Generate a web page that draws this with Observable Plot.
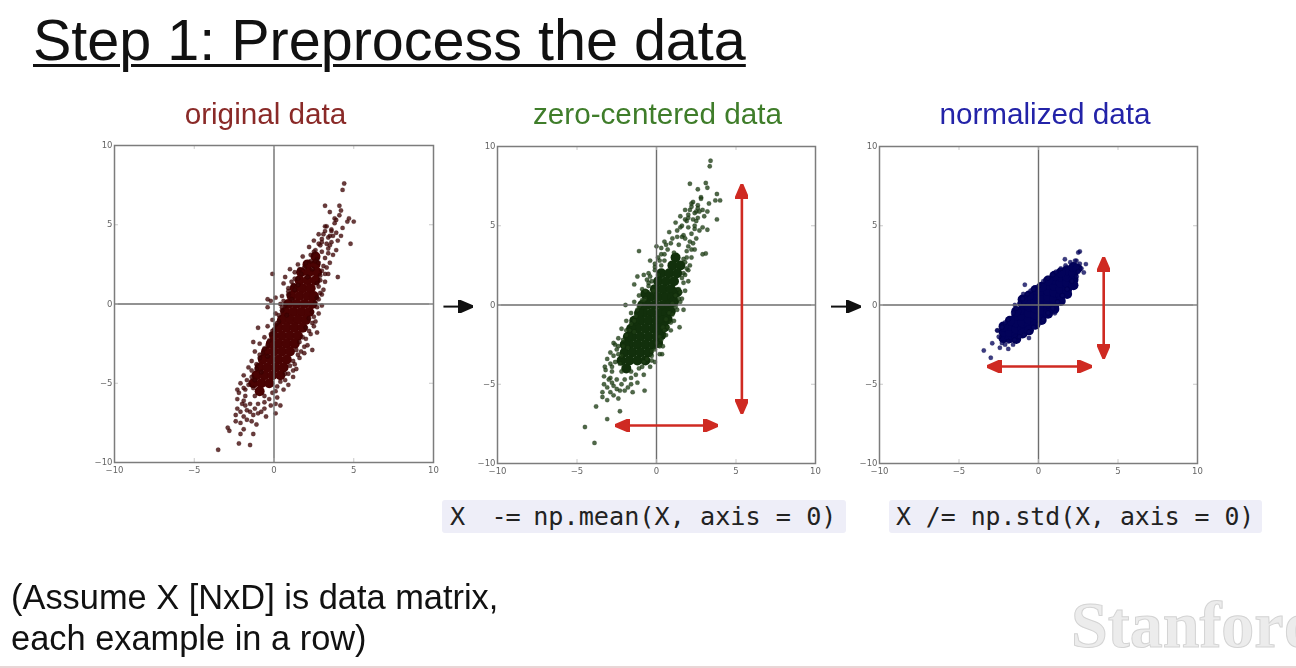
<!DOCTYPE html>
<html><head><meta charset="utf-8">
<script src="https://cdn.jsdelivr.net/npm/d3@7"></script>
<script src="https://cdn.jsdelivr.net/npm/@observablehq/plot@0.6"></script>
<style>
html,body{margin:0;padding:0;background:#fff;width:1296px;height:668px;overflow:hidden}
#page{position:relative;width:1296px;height:668px;overflow:hidden;filter:blur(.7px)}
#page>*{position:absolute}
.slide{font-family:"Liberation Sans",Arial,sans-serif;white-space:pre;margin:0}
.ptitle{font-size:29.7px;line-height:32px;text-align:center}
.code{font-family:"DejaVu Sans Mono",monospace;font-size:24.8px;line-height:33px;background:#eeeef8;color:#222;border-radius:3px;white-space:pre;box-sizing:border-box}
svg{overflow:visible;background:transparent!important}
</style></head><body><div id="page"></div>
<script>
const mainTitle = "Step 1: Preprocess the data";
const panelTitles = ["original data","zero-centered data","normalized data"];
const codeLines = ["X  -= np.mean(X, axis = 0)","X /= np.std(X, axis = 0)"];
const noteLines = ["(Assume X [NxD] is data matrix,","each example in a row)"];
const tickValues = [-10,-5,0,5,10];

const originalPoints = [[4.4,7.6],[4.3,7.2],[3.2,6.2],[4.1,6.2],[3.5,5.8],[4.2,5.9],[4.1,5.6],[3.8,5.4],[3.9,5.3],[4.7,5.4],[5,5.2],[4.6,5.2],[4.8,3.8],[3.2,4.9],[-.1,1.9],[.7,1.7],[.6,1.3],[1,2.2],[-.4,.3],[.1,.4],[-.2,.2],[-.4,-.2],[-1,-1.5],[-1.3,-2.4],[2.4,-2.9],[2.7,-1.8],[-2.3,-5.4],[.1,-6.9],[.4,-6.4],[.1,-6.3],[-3.5,-9.2],[-2.2,-8.8],[-1.5,-8.9],[-2.1,-8.2],[-1.3,-8.2],[-2.9,-7.8],[-2.8,-8],[-2.4,-7.4],[-1.9,-7.9],[-1.1,-7.6],
[3.3,4.9],[3.8,5.1],[4.3,4.8],[3.6,4.7],[2.8,4.4],[3.2,4.6],[3.9,4.5],[4.2,4.3],[3.5,4.3],[2.5,4],[3,4.1],[3.6,3.9],[4,4],[3.3,3.8],[2.2,3.6],[2.6,3.4],[3.4,3.5],[3.9,3.4],[2.9,3.7],[1.8,3],[2.3,3.1],[3.2,2.9],[3.7,3.1],[2.7,2.8],[1.5,2.5],[2,2.6],[3.1,2.4],[3.5,2.6],[2.6,2.7],[1.3,2],[1.7,1.9],[3,2.1],[3.4,1.9],[2.4,2.2],[4,1.7],[1.1,1.4],[1.5,1.6],[2.9,1.5],[3.2,1.4],[.9,1],[1.3,.9],[2.8,1.1],[3.1,.9],[.5,.5],[.9,.6],[2.7,.4],[3,.6],[.4,0],[.7,-.1],[2.6,.1],[3,-.1],[.1,-.6],[.5,-.4],[2.4,-.5],[2.8,-.6],[-.1,-1],[.3,-1.1],[2.2,-.9],[2.6,-1.1],[-.4,-1.4],[0,-1.6],[2,-1.5],[2.5,-1.4],[-.6,-2.1],[-.2,-1.9],[1.8,-2.1],[2.3,-1.9],[-.9,-2.5],[-.4,-2.6],[1.6,-2.4],[2.1,-2.6],[-1.2,-3],[-.7,-3.1],[1.4,-2.9],[1.9,-3.1],[-1.4,-3.6],[-.9,-3.4],[1.2,-3.6],[1.6,-3.4],[-1.6,-4],[-1.1,-4.1],[1,-3.9],[1.4,-4.1],[-1.9,-4.5],[-1.4,-4.6],[.7,-4.4],[1.2,-4.6],[-2.1,-5],[-1.6,-5.1],[.4,-4.9],[.9,-5.1],[-2.2,-5.6],[-1.8,-5.4],[.1,-5.5],[.6,-5.4],[-2.3,-6],[-1.9,-6.1],[-.3,-6],[.2,-5.9],[-2.3,-6.6],[-1.8,-6.4],[-.6,-6.6],[-.2,-6.4],[-2.4,-7],[-1.9,-7.1],[-1,-6.9],[-.5,-7.1],[-1.5,-6.8],[-2.1,-7.5],[-1.4,-7.4],
[3.4,4.2],[3,3.9],[3.7,4.3],[3.1,4.4],[3.6,4.6],[2.8,3.8],[3.4,3.2],[2.5,3.3],[3,3.3],[3.5,3.7],[2.3,2.7],[2.8,2.6],[3.3,2.3],[1.9,2.3],[1.6,2.2],[2.1,1.7],[3.2,1.9],[1.3,1.6],[2.9,1.8],[1.2,1.2],[1.5,1.2],[2.7,1.3],[2.9,.7],[.9,.8],[1.1,.3],[2.8,.3],[.6,.2],[2.7,-.2],[.5,-.2],[.8,-.7],[.3,-.7],[2.5,-.8],[.1,-1.3],[2.4,-1.2],[-.1,-1.7],[.2,-1.2],[2.2,-1.7],[-.3,-2.3],[2,-2.2],[1.9,-2.7],[-.6,-2.8],[-.9,-3.2],[1.7,-3],[1.5,-3.2],[-1.1,-3.8],[-.4,-3.3],[1.3,-3.8],[1.2,-4.2],[-1.4,-4.2],[-.8,-4.3],[.9,-4.4],[-1.7,-4.8],[-1.2,-4.8],[.7,-4.8],[-1.9,-5.3],[-1.3,-5.3],[.2,-5.2],[-1.8,-5.8],[-1.2,-5.8],[-.6,-5.8],[-.1,-5.6],[-2,-6.3],[-1.5,-6.3],[-1,-6.3],[-.6,-6.2],[-2.1,-6.8],[-1.7,-6.7],[-1.2,-6.6],[-.8,-6.8],[-1.7,-7.3],[-1.3,-7]];
const originalCore = [[2.6,3],[2.1,2.5],[2.6,2.5],[1.7,2],[2.2,2],[2.7,2],[1.6,1.5],[2.1,1.5],[2.6,1.5],[1.3,1],[1.8,1],[2.3,1],[1.1,.5],[1.6,.5],[2.1,.5],[2.5,.5],[.9,0],[1.4,0],[1.9,0],[2.4,0],[.7,-.5],[1.2,-.5],[1.7,-.5],[2.2,-.5],[.5,-1],[1,-1],[1.5,-1],[2,-1],[.3,-1.5],[.8,-1.5],[1.3,-1.5],[1.8,-1.5],[0,-2],[.5,-2],[1,-2],[1.5,-2],[-.2,-2.5],[.3,-2.5],[.8,-2.5],[1.3,-2.5],[-.5,-3],[0,-3],[.5,-3],[1,-3],[-.7,-3.5],[-.2,-3.5],[.3,-3.5],[.8,-3.5],[-.9,-4],[-.4,-4],[.1,-4],[.6,-4],[-1.1,-4.5],[-.6,-4.5],[-.1,-4.5],[.4,-4.5],[-1.3,-5],[-.8,-5],[-.3,-5],[-.9,-5.5]];

const centeredPoints = [[3.4,9.1],[3.35,8.75],[2.1,7.65],[3.1,7.7],[2.6,7.3],[3.2,7.4],[2.8,6.8],[3.8,7],[4,6.6],[3.7,6.6],[3.8,5.4],[2.2,6.4],[-1.1,3.4],[0,3.7],[-.4,2.8],[-1.2,1.8],[-.8,1.9],[-1.4,1.3],[-1.95,0],[1.7,-.3],[1.45,-1.4],[.35,-3.1],[-.3,-3.5],[-.75,-5.4],[-2.3,-6.7],[-3.1,-7.2],[-4.5,-7.7],[-3.9,-8.7],[-3.8,-6.4],[-3.4,-5.8],[-3.25,-3.9],[-2.7,-2.4],[-2.5,-2.8],[2.9,3.2],[3.1,3.25],[3.2,4.75],
[2.3,6.5],[2.8,6.7],[3.3,6.4],[2.6,6.3],[1.8,6],[2.2,6.2],[2.9,6],[3.2,5.9],[2.5,5.9],[1.5,5.6],[2,5.7],[2.6,5.5],[3,5.6],[2.3,5.4],[1.2,5.2],[1.6,5],[2.4,5],[2.9,4.9],[1.9,5.3],[.8,4.6],[1.3,4.7],[2.2,4.5],[2.7,4.7],[1.7,4.4],[.5,4],[1,4.2],[2.1,4],[2.5,4.2],[1.6,4.3],[.3,3.6],[.7,3.5],[2,3.7],[2.4,3.5],[1.4,3.8],[.1,3],[.5,3.2],[1.9,3],[2.2,3],[-.1,2.6],[.3,2.5],[1.8,2.7],[2.1,2.5],[-.5,2],[-.1,2.2],[1.7,2],[2,2.2],[-.6,1.6],[-.3,1.5],[1.6,1.7],[2,1.5],[-.9,1],[-.5,1.2],[1.4,1],[1.8,.9],[-1.1,.6],[-.7,.4],[1.2,.6],[1.6,.4],[-1.4,.2],[-1,0],[1,.1],[1.5,.2],[-1.6,-.5],[-1.2,-.3],[.8,-.5],[1.3,-.3],[-1.9,-1],[-1.4,-1],[.6,-.9],[1.1,-1],[-2.2,-1.5],[-1.7,-1.6],[.4,-1.4],[.9,-1.6],[-2.4,-2.1],[-1.9,-1.9],[.2,-2],[.6,-1.9],[-2.6,-2.5],[-2.1,-2.6],[0,-2.4],[.4,-2.6],[-2.9,-3],[-2.4,-3.1],[-.3,-2.9],[.2,-3.1],[-3.1,-3.4],[-2.6,-3.6],[-.6,-3.4],[-.1,-3.6],[-3.2,-4.1],[-2.8,-3.9],[-.9,-3.9],[-.4,-3.9],[-3.3,-4.5],[-2.9,-4.6],[-1.3,-4.4],[-.8,-4.4],[-3.3,-5],[-2.8,-4.9],[-1.6,-5],[-1.2,-4.9],[-3.4,-5.5],[-2.9,-5.5],[-2,-5.4],[-1.5,-5.5],[-2.5,-5.3],[-3.1,-6],[-2.4,-5.9],
[2.4,5.8],[2,5.5],[2.7,5.9],[2.1,6],[2.6,6.1],[1.8,5.4],[2.4,4.8],[1.5,4.9],[2,4.9],[2.5,5.3],[1.3,4.3],[1.8,4.2],[2.3,3.9],[.9,3.9],[.6,3.8],[1.1,3.3],[2.2,3.5],[.3,3.2],[1.9,3.4],[.2,2.8],[.5,2.8],[1.7,2.9],[1.9,2.3],[-.1,2.4],[.1,1.9],[1.8,1.9],[-.4,1.8],[1.7,1.4],[-.5,1.4],[-.2,.9],[-.7,.9],[1.5,.8],[-.9,.3],[1.4,.4],[-1.1,-.1],[-.8,.3],[1.2,-.1],[-1.3,-.7],[1,-.6],[.9,-1.1],[-1.6,-1.2],[-1.9,-1.6],[.7,-1.4],[.5,-1.6],[-2.1,-2.2],[-1.4,-1.7],[.3,-2.2],[.2,-2.6],[-2.4,-2.6],[-1.8,-2.7],[-.1,-2.8],[-2.7,-3.2],[-2.2,-3.2],[-.3,-3.2],[-2.9,-3.7],[-2.3,-3.7],[-.8,-3.6],[-2.8,-4.2],[-2.2,-4.2],[-1.6,-4.2],[-1.1,-4],[-3,-4.7],[-2.5,-4.7],[-2,-4.7],[-1.6,-4.6],[-3.1,-5.2],[-2.7,-5.1],[-2.2,-5],[-1.8,-5.2],[-2.7,-5.7],[-2.3,-5.4]];
const centeredCore = [[1.2,3],[1,2.5],[1.5,2.5],[.3,2],[.8,2],[1.3,2],[.1,1.5],[.6,1.5],[1.1,1.5],[-.1,1],[.4,1],[.9,1],[-.4,.5],[.1,.5],[.6,.5],[1,.5],[-.6,0],[-.1,0],[.4,0],[.8,0],[-.8,-.5],[-.3,-.5],[.2,-.5],[.6,-.5],[-1,-1],[-.5,-1],[0,-1],[.4,-1],[-1.2,-1.5],[-.7,-1.5],[-.2,-1.5],[.2,-1.5],[-1.5,-2],[-1,-2],[-.5,-2],[0,-2],[-1.7,-2.5],[-1.2,-2.5],[-.7,-2.5],[-.2,-2.5],[-2,-3],[-1.5,-3],[-1,-3],[-.5,-3],[-2.2,-3.5],[-1.7,-3.5],[-1.2,-3.5],[-1.9,-4],[-.9,0],[1.1,.2],[-1.1,-.5],[.9,-.4],[-1.4,-1],[.7,-.9],[-1.6,-1.5],[.5,-1.4],[-1.8,-2],[.3,-1.9],[-2,-2.5],[.1,-2.4],[-.7,-3.5],[-.7,.7],[1.3,.8]];

const normalizedPoints = [[2.6,3.38],[2.5,3.31],[-3.44,-2.87],[-3,-3.33],[-2.91,-2.41],[-.86,1.28],[-1.49,0],[2.98,2.58],[2.85,2.05],[2.39,2.79],[1.66,2.89],[1.03,-.52],[-.6,-2.08],[-1.9,-2.77],[-2.43,-2.7],[-2.58,-1.61],[-.96,.69],
[-2.6,-1.6],[-2.5,-2],[-2.3,-2.4],[-2.1,-2.5],[-1.9,-2.3],[-2.3,-1.4],[-2.1,-1.1],[-1.9,-.9],[-1.6,-.5],[-1.4,-.2],[-1.2,.1],[-1,.4],[-.7,.7],[-.5,.9],[-.3,1],[0,1.2],[.3,1.5],[.6,1.7],[.9,1.9],[1.1,2.1],[1.4,2.3],[1.7,2.5],[2,2.7],[2.3,2.8],[2.6,2.6],[2.7,2.3],[2.5,2.1],[2.4,1.8],[2.1,1.5],[1.8,1],[1.5,.6],[1.2,.2],[.9,-.2],[.6,-.5],[.3,-.9],[0,-1.2],[-.3,-1.4],[-.6,-1.7],[-.9,-1.9],[-1.2,-2],[-1.5,-2.2],[-1.6,-2.5]];
const normalizedCore = [[-2.2,-2.1],[-2.2,-1.7],[-1.8,-2.1],[-1.8,-1.7],[-1.8,-1.3],[-1.4,-1.9],[-1.4,-1.5],[-1.4,-1.1],[-1.4,-.7],[-1,-1.5],[-1,-1.1],[-1,-.7],[-1,-.3],[-1,.1],[-.6,-1.3],[-.6,-.9],[-.6,-.5],[-.6,-.1],[-.6,.3],[-.2,-1],[-.2,-.6],[-.2,-.2],[-.2,.2],[-.2,.6],[.2,-.7],[.2,-.3],[.2,.1],[.2,.5],[.2,.9],[.6,-.3],[.6,.1],[.6,.5],[.6,.9],[.6,1.3],[1,0],[1,.4],[1,.8],[1,1.2],[1,1.6],[1.4,.6],[1.4,1],[1.4,1.4],[1.4,1.8],[1.8,1],[1.8,1.4],[1.8,1.8],[1.8,2.2],[2.2,1.6],[2.2,2],[2.2,2.4],[-.2,.95],[.2,1.15],[-.6,.6],[1,1.85],[1.4,2.05],[.6,1.55],[-1,.35],[-1.4,-.4],[-1.8,-1],[-2.2,-1.35],[-1.4,-2.15],[-1,-1.8],[-.6,-1.6],[-.2,-1.25],[.2,-.95],[.6,-.55],[1,-.25],[1.4,.25],[1.8,.7],[2.2,1.25],[2.45,2.3]];

const centeredArrows = [{x1:5.37,y1:-6.83,x2:5.37,y2:7.6},{x1:-2.58,y1:-7.6,x2:3.86,y2:-7.6}];
const normalizedArrows = [{x1:4.1,y1:-3.35,x2:4.1,y2:3},{x1:-3.23,y1:-3.88,x2:3.33,y2:-3.88}];
const centeredFlowArrow = [{x1:-13.4,y1:-.1,x2:-11.55,y2:-.1}];
const normalizedFlowArrow = [{x1:-13.05,y1:-.1,x2:-11.2,y2:-.1}];

const panels = [
  {title:panelTitles[0],color:"#8a2a28",left:114,top:145,w:319,h:317,pts:originalPoints,core:originalCore,dot:"#3f0505",coreFill:"#4a0303",edge:"#2a0202",arrows:[],flow:[]},
  {title:panelTitles[1],color:"#3f7d2a",left:497.3,top:145.7,w:318,h:317,pts:centeredPoints,core:centeredCore,dot:"#1d3d14",coreFill:"#12300c",edge:"#0d220a",arrows:centeredArrows,flow:centeredFlowArrow},
  {title:panelTitles[2],color:"#2323a8",left:879.3,top:146,w:318,h:317,pts:normalizedPoints,core:normalizedCore,dot:"#06065e",coreFill:"#02025a",edge:"#00003c",arrows:normalizedArrows,flow:normalizedFlowArrow}
];
const titleCenters = [265.5,657.5,1045];

function head(color){
  const ns="http://www.w3.org/2000/svg";
  const m=document.createElementNS(ns,"marker");
  m.setAttribute("viewBox","0 -6.5 15 13");
  m.setAttribute("markerUnits","userSpaceOnUse");
  m.setAttribute("markerWidth",15);
  m.setAttribute("markerHeight",13);
  m.setAttribute("refX",14.5);
  m.setAttribute("refY",0);
  m.setAttribute("orient","auto-start-reverse");
  const p=document.createElementNS(ns,"path");
  p.setAttribute("d","M0,-6.5L15,0L0,6.5Z");
  p.setAttribute("fill",color);
  m.appendChild(p);
  return m;
}
const fmt = d => String(d).replace("-","\u2212");
const page = document.getElementById("page");
const mL=70,mT=20,mR=30,mB=30;

function addText(cls,txt,css){
  const e=document.createElement("div");e.className=cls;e.textContent=txt;e.style.cssText=css;page.appendChild(e);return e;
}
addText("slide",mainTitle,"left:33px;top:7px;font-size:57.5px;line-height:66px;color:#111;text-decoration:underline;text-decoration-thickness:3px;text-underline-offset:4px");
panels.forEach((p,i)=>{
  addText("slide ptitle",p.title,`left:${titleCenters[i]-200}px;width:400px;top:98px;color:${p.color}`);
});
panels.forEach(p=>{
  const svg = Plot.plot({
    width:p.w+mL+mR,height:p.h+mT+mB,marginLeft:mL,marginTop:mT,marginRight:mR,marginBottom:mB,
    x:{domain:[-10,10],label:null},
    y:{domain:[-10,10],label:null},
    style:{fontFamily:"DejaVu Sans",fontSize:"8.5px",color:"#666"},
    marks:[
      Plot.axisX(tickValues,{anchor:"bottom",tickSize:0,tickPadding:4,tickFormat:fmt,label:null}),
      Plot.axisY(tickValues,{anchor:"left",tickSize:0,tickPadding:2,tickFormat:fmt,label:null}),
      Plot.dot(p.core,{x:d=>d[0],y:d=>d[1],r:5,fill:p.coreFill,stroke:"none"}),
      Plot.dot(p.pts,{x:d=>d[0],y:d=>d[1],r:2.2,fill:p.dot,fillOpacity:.78,stroke:p.edge,strokeOpacity:.4,strokeWidth:.5}),
      Plot.ruleY([0],{stroke:"#6e6e6e",strokeWidth:1.4}),
      Plot.ruleX([0],{stroke:"#6e6e6e",strokeWidth:1.4}),
      Plot.ruleX(tickValues,{y1:-10,y2:-9.75,stroke:"#bbb",strokeWidth:.8}),
      Plot.ruleX(tickValues,{y1:10,y2:9.75,stroke:"#bbb",strokeWidth:.8}),
      Plot.ruleY(tickValues,{x1:-10,x2:-9.75,stroke:"#bbb",strokeWidth:.8}),
      Plot.ruleY(tickValues,{x1:10,x2:9.75,stroke:"#bbb",strokeWidth:.8}),
      Plot.frame({stroke:"#7c7c7c",strokeWidth:1.5}),
      Plot.link(p.arrows,{x1:"x1",y1:"y1",x2:"x2",y2:"y2",stroke:"#cf2a22",strokeWidth:2.6,markerStart:head,markerEnd:head}),
      Plot.link(p.flow,{x1:"x1",y1:"y1",x2:"x2",y2:"y2",stroke:"#111",strokeWidth:2,markerEnd:head})
    ]
  });
  svg.style.left=(p.left-mL)+"px";svg.style.top=(p.top-mT)+"px";svg.style.position="absolute";
  page.appendChild(svg);
});
const c0=addText("code","","left:442px;top:500px;width:404px;height:33px;padding-left:8px;font-size:25.2px");
const c0a=document.createElement("span");c0a.textContent=codeLines[0].slice(0,6);c0a.style.letterSpacing="-1.3px";
const c0b=document.createElement("span");c0b.textContent=codeLines[0].slice(6);
c0.append(c0a,c0b);
addText("code",codeLines[1],"left:889px;top:500px;width:373px;height:33px;padding-left:7px");
addText("slide",noteLines[0],"left:11px;top:576px;font-size:34.4px;line-height:42px;color:#111");
addText("slide",noteLines[1],"left:11px;top:617px;font-size:34.4px;line-height:42px;color:#111");
const wm="font-family:'Liberation Serif',serif;font-weight:bold;color:#ececec;-webkit-text-stroke:1px #d4d4d4;white-space:pre;";
addText("",'Stanford',wm+"left:1071px;top:586px;font-size:66px;line-height:78px");
addText("",'University',wm+"left:1100px;top:660px;font-size:34px;line-height:40px");
const line=document.createElement("div");line.style.cssText="left:0;top:666px;width:1296px;height:2px;background:#e8d6d6";page.appendChild(line);
</script></body></html>
